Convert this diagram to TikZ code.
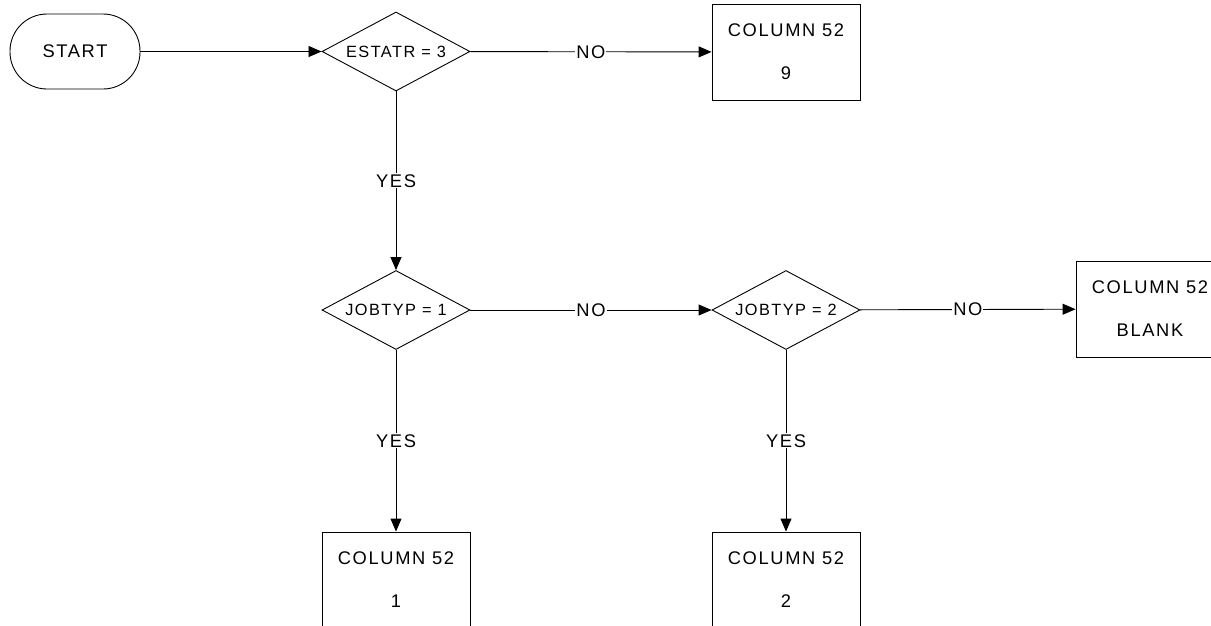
\documentclass[tikz,border=0pt]{standalone}
\usepackage{fontspec}
\setmainfont{Liberation Sans}[LetterSpace=9]
\usetikzlibrary{arrows.meta,shapes.geometric,positioning}

\begin{document}
\begin{tikzpicture}[x=1pt, y=-1pt, line width=0.9pt,
  box/.style={draw, minimum width=148pt, minimum height=96pt, align=center, font=\fontsize{18.3}{43}\selectfont},
  test/.style={draw, diamond, aspect=2, inner sep=0pt, minimum width=148pt, minimum height=79pt, font=\fontsize{16.3}{18}\selectfont},
  flow/.style={-{Triangle[length=13pt, width=11pt]}},
  lbl/.style={fill=white, inner sep=1pt, font=\fontsize{18.3}{20}\selectfont}]
\useasboundingbox (0,0) rectangle (1211,625);
\clip (0,0) rectangle (1211,625);
\node[draw, rounded corners=37pt, minimum width=130pt, minimum height=75pt, font=\fontsize{18.3}{20}\selectfont] (start) at (75,51.5) {START};
\node[test] (estatr) at (396,51.5) {ESTATR = 3};
\node[test] (job1) at (396,310) {JOBTYP = 1};
\node[test] (job2) at (786,310) {JOBTYP = 2};
\node[box] (c9) at (786,52) {COLUMN 52\\9};
\node[box] (cblank) at (1150,309) {COLUMN 52\\BLANK};
\node[box] (c1) at (396,580) {COLUMN 52\\1};
\node[box] (c2) at (786,580) {COLUMN 52\\2};
% connectors
\draw[flow] (start) -- (estatr);
\draw[flow] (estatr) -- node[lbl] {NO} (c9);
\draw[flow] (estatr) -- node[lbl] {YES} (job1);
\draw[flow] (job1) -- node[lbl] {NO} (job2);
\draw[flow] (job2) -- node[lbl] {NO} (cblank);
\foreach \a/\b in {job1/c1, job2/c2}
  \draw[flow] (\a) -- node[lbl] {YES} (\b);
\end{tikzpicture}
\end{document}
